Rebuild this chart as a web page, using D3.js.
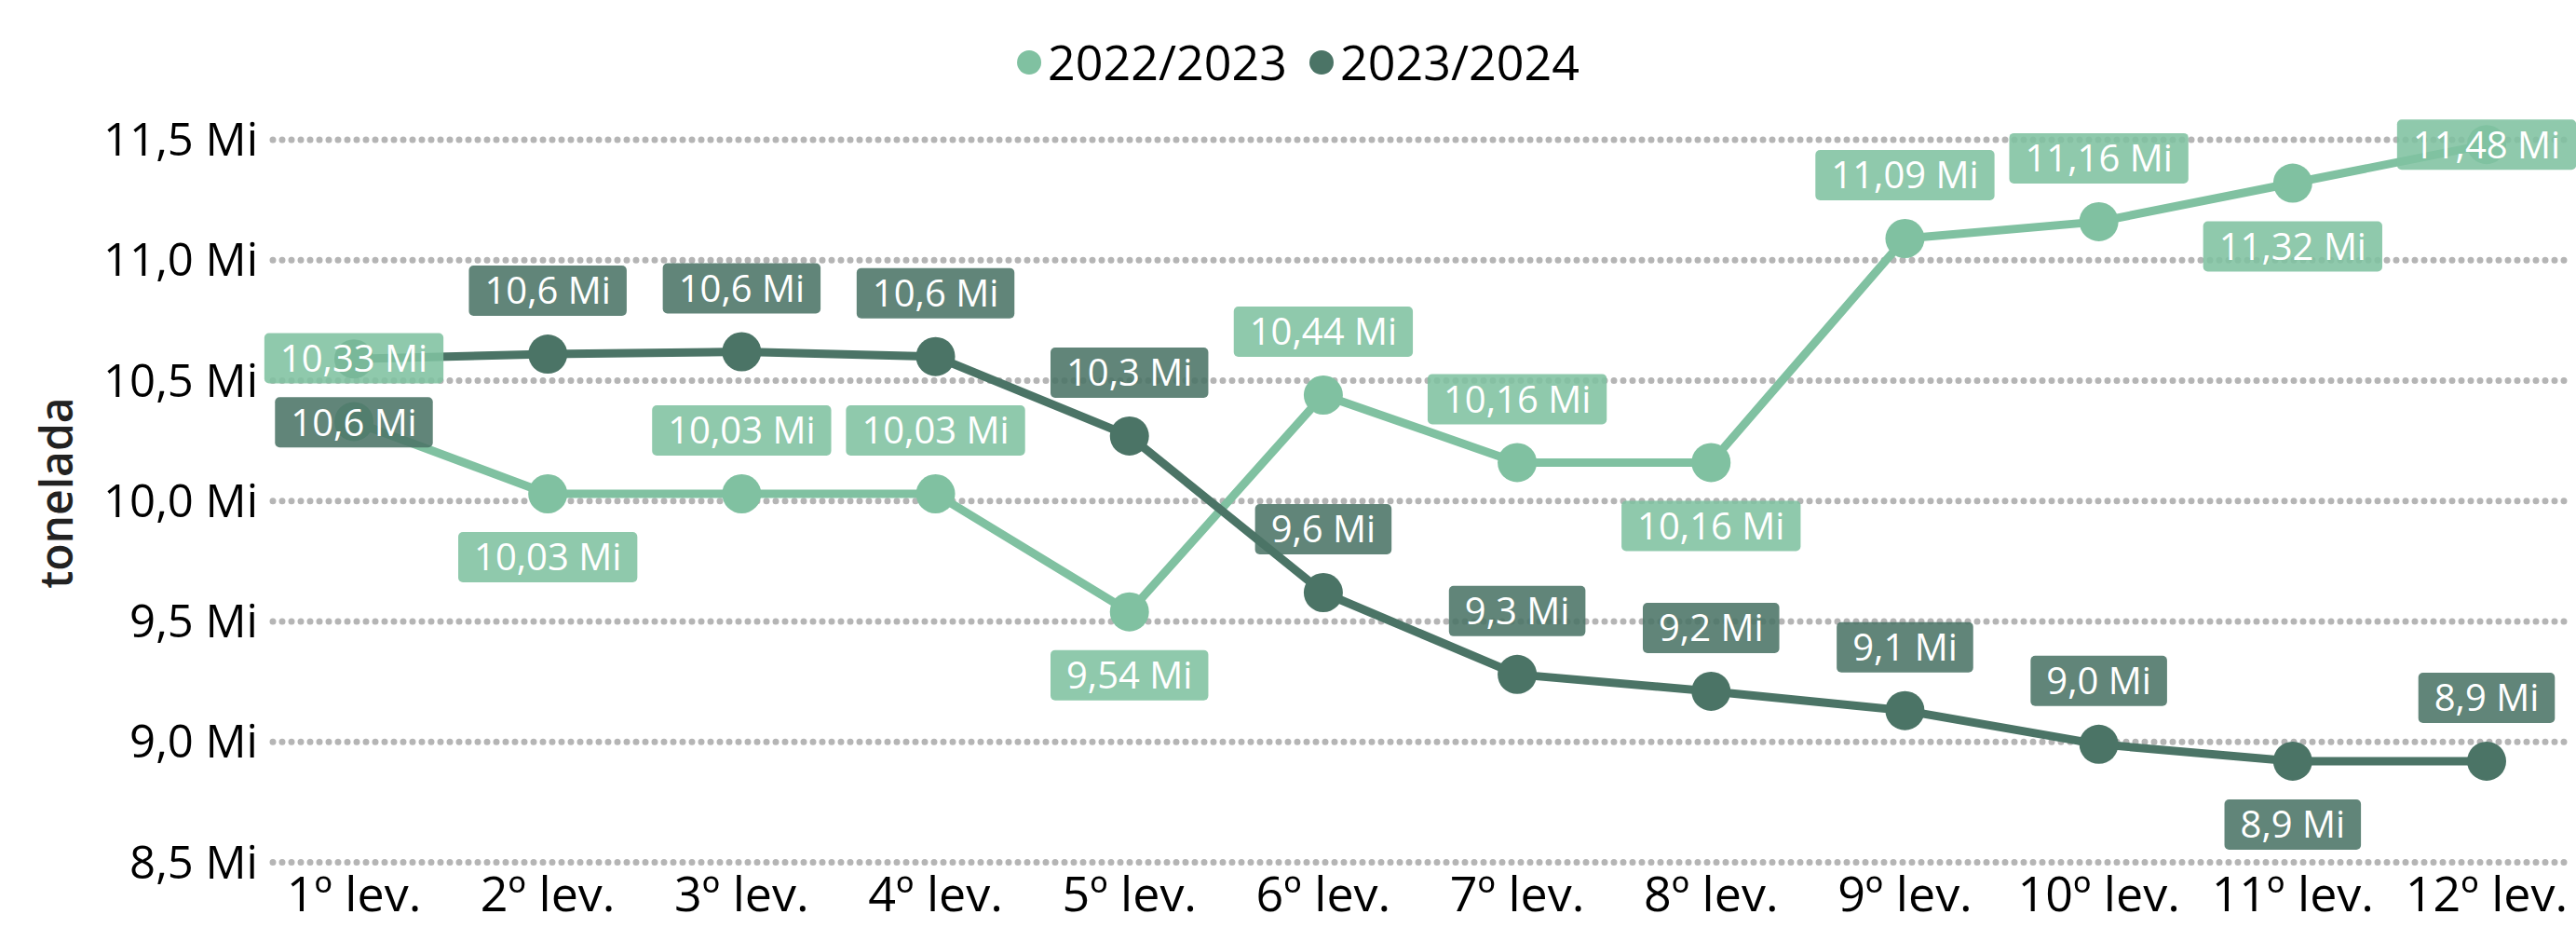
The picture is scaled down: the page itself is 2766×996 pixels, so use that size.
<!DOCTYPE html>
<html>
<head>
<meta charset="utf-8">
<script src="https://cdn.jsdelivr.net/npm/d3@7"></script>
<style>
  html, body { margin: 0; padding: 0; background: #fff; }
  svg { display: block; font-family: "Open Sans", "Noto Sans", sans-serif; }
</style>
</head>
<body>
<script>
// chart data
const categories = ["1º lev.", "2º lev.", "3º lev.", "4º lev.", "5º lev.", "6º lev.",
  "7º lev.", "8º lev.", "9º lev.", "10º lev.", "11º lev.", "12º lev."];
const seriesNames = ["2022/2023", "2023/2024"];
const values2223 = [10.33, 10.03, 10.03, 10.03, 9.54, 10.44, 10.16, 10.16, 11.09, 11.16, 11.32, 11.48];
const values2324 = [10.59, 10.61, 10.62, 10.60, 10.27, 9.62, 9.28, 9.21, 9.13, 8.99, 8.92, 8.92];
const yTicks = [8.5, 9.0, 9.5, 10.0, 10.5, 11.0, 11.5];
// where each data label sits: -1 above the point, 1 below, 0 on it
const labelSide2223 = [-1, 1, -1, -1, 1, -1, -1, 1, -1, -1, 1, 0];
const labelSide2324 = [1, -1, -1, -1, -1, -1, -1, -1, -1, -1, 1, -1];

const width = 2766,
  height = 996;

const colors = ["#80c1a1", "#4b7466"];

const locale = d3.formatLocale({ decimal: ",", thousands: ".", grouping: [3], currency: ["R$", ""] });
const fmt1 = locale.format(".1f");
const fmt2 = locale.format(".2f");

const x = d3.scalePoint().domain(categories).range([380, 2670]);
const y = d3.scaleLinear().domain([8.5, 11.5]).range([925.5, 150]);

const svg = d3
  .select("body")
  .append("svg")
  .attr("width", width)
  .attr("height", height);

// dotted gridlines
svg
  .append("g")
  .selectAll("line")
  .data(yTicks)
  .join("line")
  .attr("x1", 293)
  .attr("x2", 2755)
  .attr("y1", (d) => y(d))
  .attr("y2", (d) => y(d))
  .attr("stroke", "#b5b5b5")
  .attr("stroke-width", 7)
  .attr("stroke-linecap", "round")
  .attr("stroke-dasharray", "0 10");

// y axis tick labels
svg
  .append("g")
  .selectAll("text")
  .data(yTicks)
  .join("text")
  .attr("x", 277)
  .attr("y", (d) => y(d))
  .attr("dy", "0.35em")
  .attr("text-anchor", "end")
  .attr("font-size", 49)
  .attr("font-weight", 500)
  .attr("fill", "#000")
  .text((d) => fmt1(d) + " Mi");

// x axis labels
svg
  .append("g")
  .selectAll("text")
  .data(categories)
  .join("text")
  .attr("x", (d) => x(d))
  .attr("y", 978)
  .attr("text-anchor", "middle")
  .attr("font-size", 52)
  .attr("font-weight", 500)
  .attr("fill", "#000")
  .text((d) => d);

// y axis title
svg
  .append("text")
  .attr("transform", "translate(78,529) rotate(-90)")
  .attr("text-anchor", "middle")
  .attr("font-size", 48)
  .attr("font-weight", 600)
  .attr("fill", "#222")
  .text("tonelada");

const series = [
  { name: seriesNames[0], values: values2223, side: labelSide2223, color: colors[0], fmt: fmt2 },
  { name: seriesNames[1], values: values2324, side: labelSide2324, color: colors[1], fmt: fmt1 },
];

const line = d3
  .line()
  .x((d, i) => x(categories[i]))
  .y((d) => y(d));

// lines and points
series.forEach((s) => {
  const g = svg.append("g");
  g.append("path")
    .attr("d", line(s.values))
    .attr("fill", "none")
    .attr("stroke", s.color)
    .attr("stroke-width", 9)
    .attr("stroke-linejoin", "round");
  g.selectAll("circle")
    .data(s.values)
    .join("circle")
    .attr("cx", (d, i) => x(categories[i]))
    .attr("cy", (d) => y(d))
    .attr("r", 21)
    .attr("fill", s.color);
});

// data labels on top of everything
const labelOffset = 68,
  boxH = 54,
  padX = 17;

series.forEach((s) => {
  const g = svg.append("g");
  s.values.forEach((v, i) => {
    const cx = x(categories[i]);
    const cy = y(v) + s.side[i] * labelOffset;
    const lg = g.append("g");
    const rect = lg.append("rect").attr("fill", s.color).attr("fill-opacity", 0.88).attr("rx", 5);
    const t = lg
      .append("text")
      .attr("x", cx)
      .attr("y", cy)
      .attr("dy", "0.36em")
      .attr("text-anchor", "middle")
      .attr("font-size", 40)
      .attr("fill", "#fff")
      .text(s.fmt(v) + " Mi");
    const w = t.node().getComputedTextLength() + padX * 2;
    rect
      .attr("x", cx - w / 2)
      .attr("y", cy - boxH / 2)
      .attr("width", w)
      .attr("height", boxH);
  });
});

// legend
const legend = svg.append("g");
let lx = 0;
series.forEach((s) => {
  legend.append("circle").attr("cx", lx + 13).attr("cy", 67).attr("r", 13).attr("fill", s.color);
  const t = legend
    .append("text")
    .attr("x", lx + 33)
    .attr("y", 67)
    .attr("dy", "0.36em")
    .attr("font-size", 52)
    .attr("font-weight", 500)
    .attr("fill", "#000")
    .text(s.name);
  lx += 33 + t.node().getComputedTextLength() + 24;
});
const lw = lx - 24;
legend.attr("transform", `translate(${1394 - lw / 2},0)`);
</script>
</body>
</html>
